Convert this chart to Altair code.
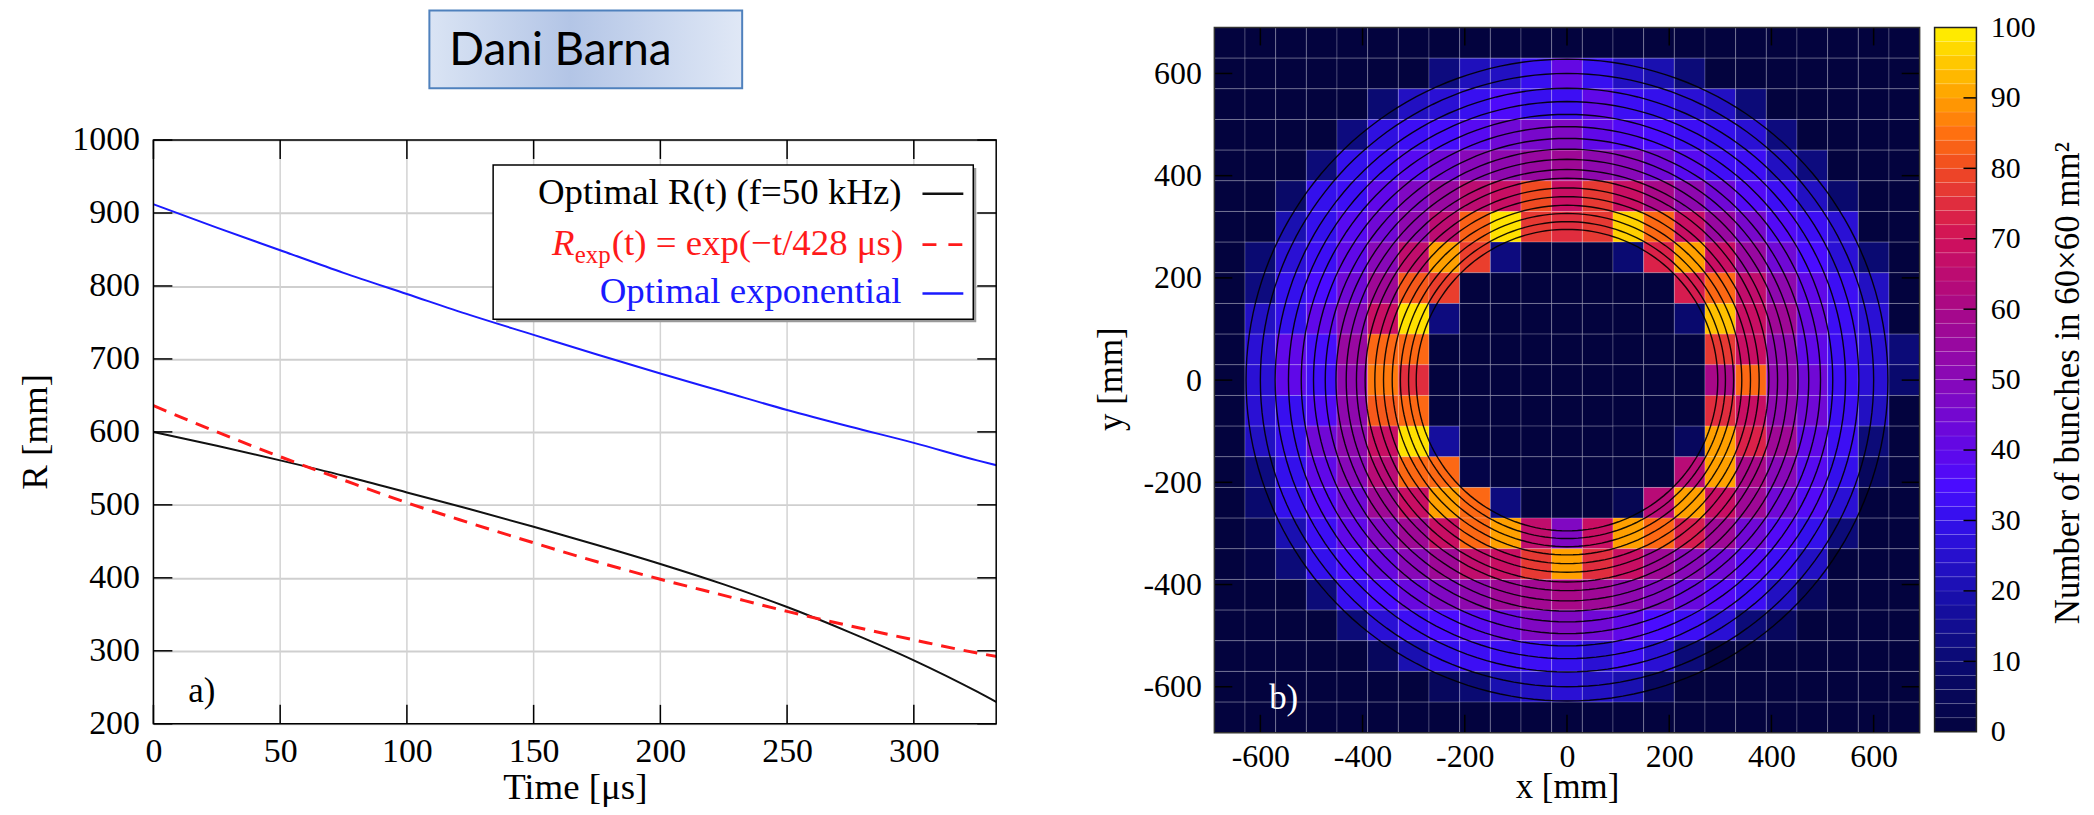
import altair as alt
import numpy as np
import pandas as pd

# ---------------- panel a) data ----------------
t_us = [0, 25, 50, 75, 100, 125, 150, 175, 200, 225, 250, 275, 300, 325, 333]
r_optimal = [600, 581, 561, 540, 517, 494, 470, 445, 419, 391, 360, 325, 287, 244, 229]
r_expfit = [636, 600, 566, 534, 503, 475, 448, 422, 398, 376, 354, 334, 315, 297, 292]
r_optexp = [912, 880, 849, 818, 789, 760, 733, 706, 680, 655, 630, 607, 585, 561, 554]
time_ticks = [0, 50, 100, 150, 200, 250, 300]
r_ticks = [200, 300, 400, 500, 600, 700, 800, 900, 1000]

# ---------------- panel b) data ----------------
heat_counts = [
    [0] * 23,
    [0, 0, 0, 0, 0, 0, 0, 12, 22, 23, 31, 41, 31, 23, 20, 11, 0, 0, 0, 0, 0, 0, 0],
    [0, 0, 0, 0, 0, 10, 23, 26, 31, 36, 31, 32, 40, 32, 30, 26, 23, 11, 0, 0, 0, 0, 0],
    [0, 0, 0, 0, 12, 28, 32, 34, 38, 44, 46, 48, 40, 37, 35, 32, 30, 26, 12, 0, 0, 0, 0],
    [0, 0, 0, 11, 30, 32, 38, 44, 50, 52, 55, 57, 52, 50, 44, 38, 33, 32, 23, 12, 0, 0, 0],
    [0, 0, 8, 30, 32, 40, 48, 55, 65, 68, 80, 68, 77, 68, 60, 52, 44, 37, 32, 23, 9, 0, 0],
    [0, 0, 20, 30, 38, 44, 52, 65, 83, 98, 77, 75, 77, 96, 84, 68, 55, 46, 37, 32, 26, 0, 0],
    [0, 10, 26, 32, 40, 50, 66, 90, 78, 12, 0, 0, 0, 10, 73, 90, 68, 55, 44, 35, 26, 10, 0],
    [0, 12, 30, 35, 44, 57, 82, 78, 0, 0, 0, 0, 0, 0, 0, 72, 84, 66, 52, 40, 32, 23, 0],
    [0, 23, 30, 40, 50, 68, 98, 12, 0, 0, 0, 0, 0, 0, 0, 9, 94, 68, 57, 42, 32, 26, 0],
    [0, 26, 40, 34, 55, 84, 84, 0, 0, 0, 0, 0, 0, 0, 0, 0, 77, 68, 52, 40, 32, 26, 11],
    [0, 26, 40, 33, 52, 86, 75, 0, 0, 0, 0, 0, 0, 0, 0, 0, 60, 84, 52, 44, 32, 26, 9],
    [0, 26, 31, 37, 52, 82, 84, 0, 0, 0, 0, 0, 0, 0, 0, 0, 75, 68, 52, 44, 32, 23, 0],
    [0, 23, 31, 44, 52, 68, 98, 17, 0, 0, 0, 0, 0, 0, 0, 6, 90, 73, 57, 40, 32, 11, 0],
    [0, 12, 30, 40, 50, 64, 84, 84, 2, 0, 0, 0, 0, 0, 0, 64, 90, 60, 50, 38, 30, 6, 0],
    [0, 9, 30, 37, 44, 57, 68, 90, 84, 12, 0, 0, 0, 4, 64, 90, 68, 57, 44, 37, 26, 0, 0],
    [0, 3, 20, 32, 40, 48, 57, 68, 84, 90, 66, 48, 68, 90, 84, 72, 57, 44, 37, 30, 11, 0, 0],
    [0, 2, 11, 30, 35, 42, 50, 57, 66, 68, 77, 90, 75, 68, 57, 50, 44, 37, 32, 23, 0, 0, 0],
    [0, 0, 0, 11, 31, 35, 42, 48, 52, 57, 58, 60, 57, 52, 48, 42, 37, 32, 23, 6, 0, 0, 0],
    [0, 0, 0, 0, 11, 26, 32, 35, 38, 42, 48, 48, 44, 40, 35, 32, 26, 11, 6, 0, 0, 0, 0],
    [0, 0, 0, 0, 0, 6, 20, 30, 32, 32, 32, 30, 26, 32, 26, 11, 0, 0, 0, 0, 0, 0, 0],
    [0, 0, 0, 0, 0, 0, 0, 6, 10, 20, 23, 26, 23, 20, 6, 0, 0, 0, 0, 0, 0, 0, 0],
    [0] * 23,
]
bin_mm = 60
half_span = 690
xy_ticks = [-600, -400, -200, 0, 200, 400, 600]
ring_radii = [628, 600, 571, 545, 520, 496, 473, 452, 432, 412, 395, 376, 359, 342, 326, 310, 295]
cbar_labels = [0, 10, 20, 30, 40, 50, 60, 70, 80, 90, 100]
cbar_ticks = [10, 20, 30, 40, 50, 60, 70, 80, 90]

# ---------------- styles ----------------
SERIF = "Liberation Serif"
W1, H1 = 846, 699          # panel a) view: full column height; the frame starts at TOP1
TOP1 = 113                 # pixel offset of the framed plot inside panel a)
W2 = H2 = 708
W3, H3 = 42, 707
one = pd.DataFrame({"k": [0]})

cmap_v = [0, 10, 20, 30, 35, 40, 50, 60, 70, 80, 85, 90, 95, 100]
cmap_c = ["#03033e", "#0a0a72", "#1a10b0", "#3410ec", "#4a0cff", "#6008e8", "#8808b8",
          "#a80888", "#d0105a", "#f04a22", "#ff7010", "#ffa000", "#ffc800", "#fff200"]
cscale = alt.Scale(domain=cmap_v, range=cmap_c, interpolate="rgb")


def vtitle(s, x, y, size):
    return alt.Chart(one).mark_text(text=s, font=SERIF, fontSize=size, angle=270,
                                    align="center", baseline="alphabetic",
                                    color="black").encode(x=alt.value(x), y=alt.value(y))


# ================= panel a) =================
xs1 = alt.Scale(domain=[0, 332.5], nice=False, zero=False)
ys1 = alt.Scale(domain=[200, 1000], range=[H1, TOP1], nice=False, zero=False)
ax1x = alt.Axis(values=time_ticks, title="Time [μs]", ticks=False, domain=False, grid=False,
                labelFont=SERIF, labelFontSize=34, format="d",
                labelPadding=11, labelFlush=False, labelOverlap=False, labelColor="black",
                titleFont=SERIF, titleFontSize=37, titleFontWeight="normal", titleColor="black",
                titleY=75, titleBaseline="alphabetic")
ax1y = alt.Axis(values=r_ticks, title=None, ticks=False, domain=False, grid=True,
                gridColor="#cfcfcf", gridWidth=2, labelFont=SERIF, labelFontSize=34, format="d",
                labelPadding=14, labelFlush=False, labelOverlap=False, labelColor="black")


def series(vals):
    return pd.DataFrame({"t": t_us, "r": vals})


def xy1(chart):
    return chart.encode(x=alt.X("t:Q", scale=xs1, axis=ax1x), y=alt.Y("r:Q", scale=ys1, axis=ax1y))


spacer_a = alt.Chart(one).mark_rule(color="white", strokeWidth=1).encode(
    x=alt.value(-145), x2=alt.value(-144), y=alt.value(600))
spacer_a2 = alt.Chart(one).mark_rule(color="white", strokeWidth=1).encode(
    x=alt.value(936), x2=alt.value(937), y=alt.value(400))

grad = alt.LinearGradient(
    gradient="linear", x1=0, x2=1, y1=0, y2=0,
    stops=[alt.GradientStop(color="#dae4f4", offset=0),
           alt.GradientStop(color="#b3c5e6", offset=0.45),
           alt.GradientStop(color="#e0e8f6", offset=1)])
title_box = alt.Chart(one).mark_rect(fill=grad, stroke="#4f81bd", strokeWidth=2).encode(
    x=alt.value(277), x2=alt.value(591), y=alt.value(-17), y2=alt.value(61))
title_txt = alt.Chart(one).mark_text(text="Dani Barna", font="Lato", fontSize=46, align="left",
                                     baseline="alphabetic", color="black").encode(
    x=alt.value(297), y=alt.value(38))

tdf = pd.DataFrame({"v": time_ticks})
rdf = pd.DataFrame({"v": r_ticks})
vgrid = alt.Chart(tdf).mark_rule(color="#d3d3d3", strokeWidth=1.5).encode(
    x=alt.X("v:Q", scale=xs1, axis=ax1x), y=alt.value(TOP1), y2=alt.value(H1))

line_blue = xy1(alt.Chart(series(r_optexp)).mark_line(color="#1a1aff", strokeWidth=2,
                                                      interpolate="monotone", clip=True))
line_black = xy1(alt.Chart(series(r_optimal)).mark_line(color="#111111", strokeWidth=2,
                                                        interpolate="monotone", clip=True))
line_red = xy1(alt.Chart(series(r_expfit)).mark_line(color="#ff1a1a", strokeWidth=3,
                                                     strokeDash=[14, 9], interpolate="monotone",
                                                     clip=True))

tk = dict(color="black", strokeWidth=1.5)
tick_b = alt.Chart(tdf).mark_rule(**tk).encode(x=alt.X("v:Q", scale=xs1, axis=ax1x),
                                                y=alt.value(H1), y2=alt.value(H1 - 19))
tick_t = alt.Chart(tdf).mark_rule(**tk).encode(x=alt.X("v:Q", scale=xs1, axis=ax1x),
                                                y=alt.value(TOP1), y2=alt.value(TOP1 + 19))
tick_l = alt.Chart(rdf).mark_rule(**tk).encode(y=alt.Y("v:Q", scale=ys1, axis=ax1y),
                                                x=alt.value(0), x2=alt.value(19))
tick_r = alt.Chart(rdf).mark_rule(**tk).encode(y=alt.Y("v:Q", scale=ys1, axis=ax1y),
                                                x=alt.value(W1), x2=alt.value(W1 - 19))
frame_a = alt.Chart(one).mark_rect(fillOpacity=0, stroke="black", strokeWidth=1.5).encode(
    x=alt.value(0), x2=alt.value(W1), y=alt.value(TOP1), y2=alt.value(H1))

LY = TOP1 + 25
leg_shadow = alt.Chart(one).mark_rect(color="#9a9a9a").encode(
    x=alt.value(344), x2=alt.value(826), y=alt.value(LY + 3), y2=alt.value(LY + 158))
leg_box = alt.Chart(one).mark_rect(fill="white", stroke="black", strokeWidth=1.5).encode(
    x=alt.value(341), x2=alt.value(823), y=alt.value(LY), y2=alt.value(LY + 155))


def ltxt(s, x, y, color, size=37, align="right", style="normal"):
    return alt.Chart(one).mark_text(text=s, font=SERIF, fontSize=size, align=align,
                                    baseline="middle", color=color, fontStyle=style).encode(
        x=alt.value(x), y=alt.value(y))


leg_t1 = ltxt("Optimal R(t) (f=50 kHz)", 751, LY + 28, "black")
leg_t2a = ltxt("R", 400, LY + 79, "#ff1a1a", align="left", style="italic")
leg_t2b = ltxt("exp", 423, LY + 90, "#ff1a1a", size=25, align="left")
leg_t2c = ltxt("(t) = exp(−t/428 μs)", 460, LY + 79, "#ff1a1a", align="left")
leg_t3 = ltxt("Optimal exponential", 751, LY + 128, "#1a1aff")
leg_l1 = alt.Chart(one).mark_rule(color="#111111", strokeWidth=2.5).encode(
    x=alt.value(772), x2=alt.value(813), y=alt.value(LY + 29))
leg_l2 = alt.Chart(one).mark_rule(color="#ff1a1a", strokeWidth=3, strokeDash=[14, 12]).encode(
    x=alt.value(772), x2=alt.value(813), y=alt.value(LY + 80))
leg_l3 = alt.Chart(one).mark_rule(color="#1a1aff", strokeWidth=2.5).encode(
    x=alt.value(772), x2=alt.value(813), y=alt.value(LY + 129))
lab_a = alt.Chart(one).mark_text(text="a)", font=SERIF, fontSize=35, align="left",
                                 baseline="alphabetic", color="black").encode(
    x=alt.value(35), y=alt.value(TOP1 + 564))
ytitle_a = vtitle("R [mm]", -107, 406, 37)

panel_a = alt.layer(
    spacer_a, spacer_a2, title_box, title_txt, vgrid, line_blue, line_black, line_red,
    tick_b, tick_t, tick_l, tick_r, frame_a, leg_shadow, leg_box,
    leg_t1, leg_t2a, leg_t2b, leg_t2c, leg_t3, leg_l1, leg_l2, leg_l3, lab_a, ytitle_a,
).properties(width=W1, height=H1)

# ================= panel b) =================
cells = []
for j, row in enumerate(heat_counts):
    for i, v in enumerate(row):
        cells.append({"x0": -half_span + bin_mm * i, "x1": -half_span + bin_mm * (i + 1),
                      "y1": half_span - bin_mm * j, "y0": half_span - bin_mm * (j + 1), "n": v})
cells = pd.DataFrame(cells)

xs2 = alt.Scale(domain=[-half_span, half_span], nice=False, zero=False)
ys2 = alt.Scale(domain=[-half_span, half_span], nice=False, zero=False)
hy = "datum.value < 0 ? '-' + abs(datum.value) : '' + datum.value"
ax2x = alt.Axis(values=xy_ticks, title="x [mm]", ticks=False, domain=False, grid=False,
                labelExpr=hy, labelFont=SERIF, labelFontSize=32, labelPadding=9,
                labelFlush=False, labelOverlap=False, labelColor="black",
                titleFont=SERIF, titleFontSize=35, titleFontWeight="normal", titleColor="black",
                titleY=65, titleBaseline="alphabetic")
ax2y = alt.Axis(values=xy_ticks, title=None, ticks=False, domain=False, grid=False,
                labelExpr=hy, labelFont=SERIF, labelFontSize=32, labelPadding=13,
                labelFlush=False, labelOverlap=False, labelColor="black")

heat = alt.Chart(cells).mark_rect(stroke="white", strokeOpacity=0.22, strokeWidth=1).encode(
    x=alt.X("x0:Q", scale=xs2, axis=ax2x), x2="x1:Q",
    y=alt.Y("y0:Q", scale=ys2, axis=ax2y), y2="y1:Q",
    color=alt.Color("n:Q", scale=cscale, legend=None))

ring_rows = [{"rad": r, "deg": float(d)} for r in ring_radii for d in np.arange(0, 362, 2)]
rings = alt.Chart(pd.DataFrame(ring_rows)).transform_calculate(
    cx="datum.rad * cos(datum.deg * PI / 180)",
    cy="datum.rad * sin(datum.deg * PI / 180)",
).mark_line(color="black", strokeWidth=1.4, opacity=0.9).encode(
    x=alt.X("cx:Q", scale=xs2, axis=ax2x), y=alt.Y("cy:Q", scale=ys2, axis=ax2y),
    detail="rad:N", order="deg:Q")

xdf = pd.DataFrame({"v": xy_ticks})
tk2 = dict(color="black", strokeWidth=1.5)
t2b = alt.Chart(xdf).mark_rule(**tk2).encode(x=alt.X("v:Q", scale=xs2, axis=ax2x),
                                              y=alt.value(H2), y2=alt.value(H2 - 18))
t2t = alt.Chart(xdf).mark_rule(**tk2).encode(x=alt.X("v:Q", scale=xs2, axis=ax2x),
                                              y=alt.value(0), y2=alt.value(18))
t2l = alt.Chart(xdf).mark_rule(**tk2).encode(y=alt.Y("v:Q", scale=ys2, axis=ax2y),
                                              x=alt.value(0), x2=alt.value(18))
t2r = alt.Chart(xdf).mark_rule(**tk2).encode(y=alt.Y("v:Q", scale=ys2, axis=ax2y),
                                              x=alt.value(W2), x2=alt.value(W2 - 18))
frame_b = alt.Chart(one).mark_rect(fillOpacity=0, stroke="#333333", strokeWidth=1.5).encode(
    x=alt.value(0), x2=alt.value(W2), y=alt.value(0), y2=alt.value(H2))
lab_b = alt.Chart(one).mark_text(text="b)", font=SERIF, fontSize=35, align="left",
                                 baseline="alphabetic", color="white").encode(
    x=alt.value(55), y=alt.value(684))
ytitle_b = vtitle("y [mm]", -93, 353, 35)
spacer_b = alt.Chart(one).mark_rule(color="white", strokeWidth=1).encode(
    x=alt.value(-126), x2=alt.value(-125), y=alt.value(600))
spacer_b2 = alt.Chart(one).mark_rule(color="white", strokeWidth=1).encode(
    x=alt.value(713), x2=alt.value(714), y=alt.value(300))

panel_b = alt.layer(spacer_b, spacer_b2, heat, rings, t2b, t2t, t2l, t2r, frame_b,
                    lab_b, ytitle_b).properties(width=W2, height=H2)

# ================= colour bar =================
bands = pd.DataFrame({"lo": np.arange(0, 100, 2.0)})
bands["hi"] = bands["lo"] + 2
bands["mid"] = bands["lo"] + 1
ys3 = alt.Scale(domain=[0, 100], nice=False, zero=False)
ax3 = alt.Axis(values=cbar_labels, orient="right", title=None,
               ticks=False, domain=False, grid=False, labelFont=SERIF, labelFontSize=30,
               labelPadding=14, labelFlush=False, labelOverlap=False, labelColor="black")
cbar = alt.Chart(bands).mark_rect(stroke="white", strokeOpacity=0.18, strokeWidth=0.6).encode(
    x=alt.value(0), x2=alt.value(W3),
    y=alt.Y("lo:Q", scale=ys3, axis=ax3), y2="hi:Q",
    color=alt.Color("mid:Q", scale=cscale, legend=None))
cdf = pd.DataFrame({"v": cbar_ticks})
cb_ticks = alt.Chart(cdf).mark_rule(color="black", strokeWidth=1.5).encode(
    y=alt.Y("v:Q", scale=ys3, axis=ax3), x=alt.value(W3), x2=alt.value(W3 - 13))
frame_c = alt.Chart(one).mark_rect(fillOpacity=0, stroke="#222222", strokeWidth=1.5).encode(
    x=alt.value(0), x2=alt.value(W3), y=alt.value(0), y2=alt.value(H3))
ctitle = vtitle("Number of bunches in 60×60 mm²", W3 + 103, 357, 35)
spacer_c = alt.Chart(one).mark_rule(color="white", strokeWidth=1).encode(
    x=alt.value(-7), x2=alt.value(-6), y=alt.value(300))

panel_c = alt.layer(spacer_c, cbar, cb_ticks, frame_c, ctitle).properties(width=W3, height=H3)

chart = alt.hconcat(panel_a, panel_b, panel_c, spacing=0, padding=0,
                    background="white").configure_view(strokeWidth=0)

chart.save("out.html", embed_options={"renderer": "svg", "actions": False})
